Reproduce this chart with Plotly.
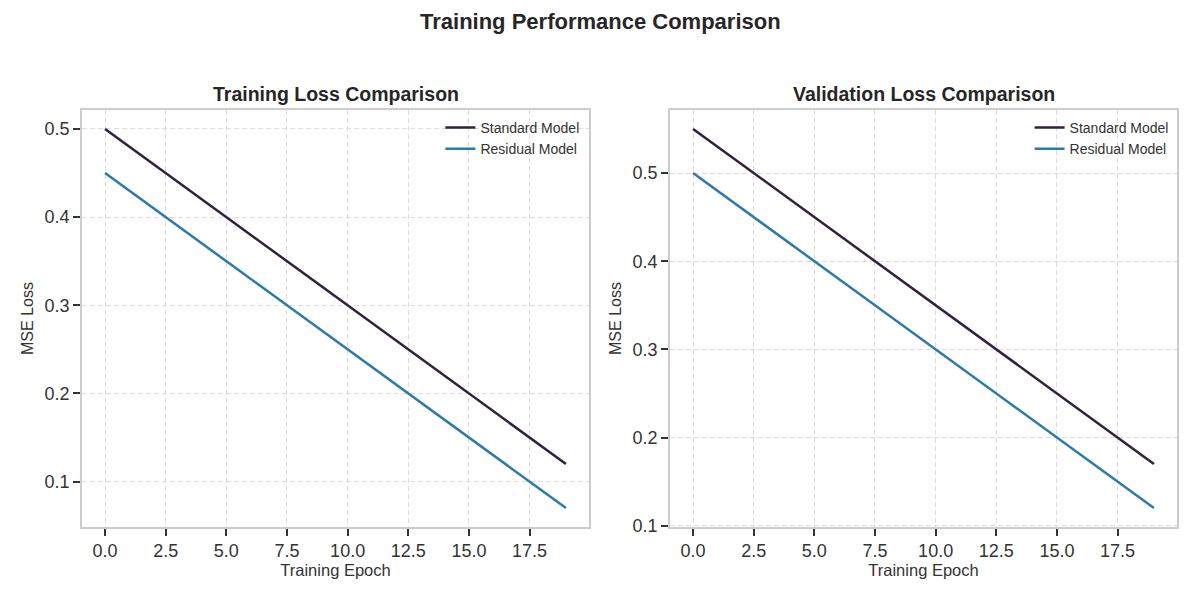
import plotly.graph_objects as go

epochs = list(range(20))
train_standard = [0.50, 0.48, 0.46, 0.44, 0.42, 0.40, 0.38, 0.36, 0.34, 0.32,
                  0.30, 0.28, 0.26, 0.24, 0.22, 0.20, 0.18, 0.16, 0.14, 0.12]
train_residual = [0.45, 0.43, 0.41, 0.39, 0.37, 0.35, 0.33, 0.31, 0.29, 0.27,
                  0.25, 0.23, 0.21, 0.19, 0.17, 0.15, 0.13, 0.11, 0.09, 0.07]
val_standard = [0.55, 0.53, 0.51, 0.49, 0.47, 0.45, 0.43, 0.41, 0.39, 0.37,
                0.35, 0.33, 0.31, 0.29, 0.27, 0.25, 0.23, 0.21, 0.19, 0.17]
val_residual = [0.50, 0.48, 0.46, 0.44, 0.42, 0.40, 0.38, 0.36, 0.34, 0.32,
                0.30, 0.28, 0.26, 0.24, 0.22, 0.20, 0.18, 0.16, 0.14, 0.12]
x_ticks = [0, 2.5, 5, 7.5, 10, 12.5, 15, 17.5]
x_tick_text = ["0.0", "2.5", "5.0", "7.5", "10.0", "12.5", "15.0", "17.5"]
y_ticks = [0.1, 0.2, 0.3, 0.4, 0.5]
y_tick_text = ["0.1", "0.2", "0.3", "0.4", "0.5"]

C_STD = "#31203e"
C_RES = "#2e7aa7"
FONT = "Liberation Sans, Arial, sans-serif"

fig = go.Figure()
fig.add_trace(go.Scatter(x=epochs, y=train_standard, mode="lines", name="Standard Model",
                         line=dict(color=C_STD, width=2.5), xaxis="x", yaxis="y", legend="legend"))
fig.add_trace(go.Scatter(x=epochs, y=train_residual, mode="lines", name="Residual Model",
                         line=dict(color=C_RES, width=2.5), xaxis="x", yaxis="y", legend="legend"))
fig.add_trace(go.Scatter(x=epochs, y=val_standard, mode="lines", name="Standard Model",
                         line=dict(color=C_STD, width=2.5), xaxis="x2", yaxis="y2", legend="legend2"))
fig.add_trace(go.Scatter(x=epochs, y=val_residual, mode="lines", name="Residual Model",
                         line=dict(color=C_RES, width=2.5), xaxis="x2", yaxis="y2", legend="legend2"))

ydom = [1 - 527 / 600, 1 - 110 / 600]
common_x = dict(tickvals=x_ticks, ticktext=x_tick_text, range=[-0.95, 19.95],
                showline=True, mirror=True, linecolor="#cccccc", linewidth=1.5,
                ticks="outside", ticklen=7, tickwidth=1.5, tickcolor="#333333",
                showgrid=True, gridcolor="#dddddd", griddash="5px,3px", gridwidth=1,
                zeroline=False, automargin=False,
                tickfont=dict(size=18, color="#333333", family=FONT),
                title=dict(text="Training Epoch", font=dict(size=16.5, color="#333333", family=FONT), standoff=3))
common_y = dict(tickvals=y_ticks, ticktext=y_tick_text,
                showline=True, mirror=True, linecolor="#cccccc", linewidth=1.5,
                ticks="outside", ticklen=7, tickwidth=1.5, tickcolor="#333333",
                showgrid=True, gridcolor="#dddddd", griddash="5px,3px", gridwidth=1,
                zeroline=False, automargin=False,
                tickfont=dict(size=18, color="#333333", family=FONT),
                title=dict(text="MSE Loss", font=dict(size=16, color="#333333", family=FONT), standoff=7))

fig.update_layout(
    width=1200, height=600,
    margin=dict(l=0, r=0, t=0, b=0),
    paper_bgcolor="white", plot_bgcolor="white",
    font=dict(family=FONT, color="#333333"),
    xaxis=dict(domain=[82 / 1200, 589 / 1200], anchor="y", **common_x),
    yaxis=dict(domain=ydom, anchor="x", range=[0.0485, 0.5215], **common_y),
    xaxis2=dict(domain=[670 / 1200, 1177 / 1200], anchor="y2", **common_x),
    yaxis2=dict(domain=ydom, anchor="x2", range=[0.0985, 0.5715], **common_y),
    legend=dict(x=0.487, y=0.8135, xanchor="right", yanchor="top", bgcolor="rgba(0,0,0,0)",
                font=dict(size=14, color="#333333", family=FONT), itemwidth=30, tracegroupgap=0),
    legend2=dict(x=0.978, y=0.8135, xanchor="right", yanchor="top", bgcolor="rgba(0,0,0,0)",
                 font=dict(size=14, color="#333333", family=FONT), itemwidth=30, tracegroupgap=0),
    annotations=[
        dict(text="<b>Training Performance Comparison</b>", x=0.5, y=1 - 21 / 600, xref="paper", yref="paper",
             showarrow=False, font=dict(size=22, color="#262626", family=FONT), xanchor="center", yanchor="middle"),
        dict(text="<b>Training Loss Comparison</b>", x=(82 + 589) / 2400, y=1 - 94 / 600, xref="paper", yref="paper",
             showarrow=False, font=dict(size=19.5, color="#262626", family=FONT), xanchor="center", yanchor="middle"),
        dict(text="<b>Validation Loss Comparison</b>", x=(670 + 1177) / 2400, y=1 - 94 / 600, xref="paper", yref="paper",
             showarrow=False, font=dict(size=19.5, color="#262626", family=FONT), xanchor="center", yanchor="middle"),
    ],
    showlegend=True,
)

fig.write_html("out.html")
